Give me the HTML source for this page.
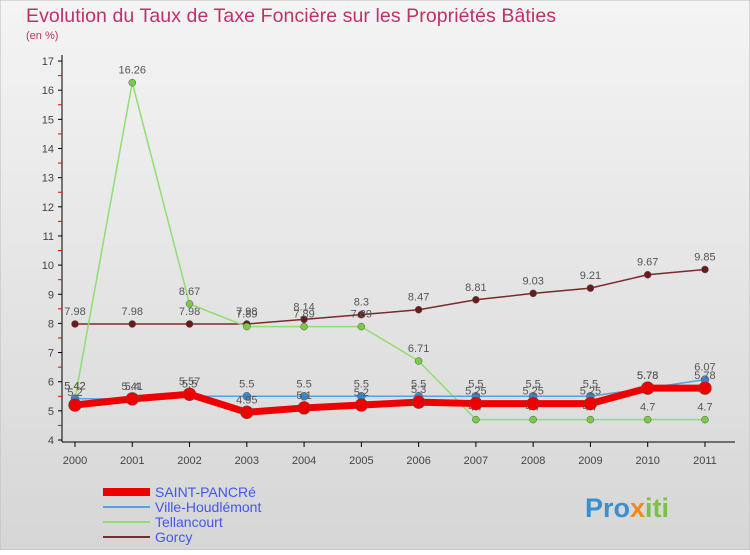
<!DOCTYPE html>
<html><head><meta charset="utf-8"><style>
body{margin:0;width:750px;height:550px;overflow:hidden;font-family:"Liberation Sans",sans-serif}
</style></head><body>
<svg id="c" width="750" height="550" xmlns="http://www.w3.org/2000/svg">
<defs><linearGradient id="bg" x1="0" y1="0" x2="0" y2="1"><stop offset="0" stop-color="#f4f4f4"/><stop offset="1" stop-color="#d6d6d6"/></linearGradient></defs>
<rect x="0" y="0" width="750" height="550" fill="url(#bg)" stroke="#bbb"/>
<text x="26" y="22" font-size="19.5" fill="#c0306a" textLength="530">Evolution du Taux de Taxe Foncière sur les Propriétés Bâties</text>
<text x="26" y="39" font-size="11" fill="#c0306a">(en %)</text>
<g id="axes"></g><g id="series"></g><g id="legend"></g>
<text x="585" y="517" font-size="27" font-weight="bold" fill="#3a8fd0">Pro<tspan fill="#f08a1e">x</tspan><tspan fill="#7cc242">iti</tspan></text>
</svg>
<script>
const years=[2000,2001,2002,2003,2004,2005,2006,2007,2008,2009,2010,2011];
const yTicks=[4,5,6,7,8,9,10,11,12,13,14,15,16,17];
const names=["SAINT-PANCRé","Ville-Houdlémont","Tellancourt","Gorcy"];
const saint=[5.2,5.41,5.57,4.95,5.1,5.2,5.3,5.25,5.25,5.25,5.78,5.78];
const ville=[5.42,5.4,5.5,5.5,5.5,5.5,5.5,5.5,5.5,5.5,5.78,6.07];
const tell=[5.42,16.26,8.67,7.89,7.89,7.89,6.71,4.7,4.7,4.7,4.7,4.7];
const gorcy=[7.98,7.98,7.98,7.98,8.14,8.3,8.47,8.81,9.03,9.21,9.67,9.85];
const NS="http://www.w3.org/2000/svg";
const X=i=>75+i*57.27, Y=v=>440-(v-4)*29.15;
function mk(t,a,p){const e=document.createElementNS(NS,t);for(const k in a)e.setAttribute(k,a[k]);p.appendChild(e);return e;}
const ax=document.getElementById('axes');
let l=mk('line',{x1:62,y1:55,x2:62,y2:442,stroke:'#000'},ax);

l=mk('line',{x1:62,y1:442,x2:735,y2:442,stroke:'#000'},ax);

yTicks.forEach(v=>{mk('line',{x1:58,y1:Y(v),x2:62,y2:Y(v),stroke:'#000'},ax);
if(v<17)mk('line',{x1:58,y1:Y(v+0.5),x2:62,y2:Y(v+0.5),stroke:'#e00'},ax);
const t=mk('text',{x:54,y:Y(v)+4,'font-size':11,'text-anchor':'end',fill:'#444'},ax);t.textContent=v;
});
years.forEach((yr,i)=>{mk('line',{x1:X(i),y1:442,x2:X(i),y2:447,stroke:'#000'},ax);
const t=mk('text',{x:X(i),y:464,'font-size':11,'text-anchor':'middle',fill:'#444'},ax);t.textContent=yr;
});
const sg=document.getElementById('series');
const defs=[[gorcy,'#7a2a2a','#6b1a1a',1.5,3.5,'gorcy'],[tell,'#90dd70','#77cc44',1.5,3.5,'tellancourt'],[ville,'#5aa0dd','#3a88cc',1.5,4,'ville-houdlemont'],[saint,'#ee0000','#ee0000',7,6.5,'saint-pancre']];
defs.forEach(([d,lc,pc,w,r,n])=>{
const g=mk('g',{},sg);
const p=mk('polyline',{points:d.map((v,i)=>X(i)+','+Y(v)).join(' '),fill:'none',stroke:lc,'stroke-width':w,'stroke-linejoin':'round'},g);

d.forEach((v,i)=>{const c=mk('circle',{cx:X(i),cy:Y(v),r:r,fill:pc,stroke:'#555','stroke-width':0.5},g);

const t=mk('text',{x:X(i),y:Y(v)-9,'font-size':11,'text-anchor':'middle',fill:'#555'},g);t.textContent=String(v);
});});
const lg=document.getElementById('legend');
const lc2=['#ee0000','#5aa0dd','#90dd70','#7a2a2a'],lw=[8,2,2,2];
names.forEach((n,i)=>{const y=492+i*15;
const s=mk('line',{x1:103,y1:y,x2:150,y2:y,stroke:lc2[i],'stroke-width':lw[i]},lg);

const t=mk('text',{x:155,y:y+5,'font-size':14,fill:'#4455ee'},lg);t.textContent=n;
});
</script>
</body></html>
